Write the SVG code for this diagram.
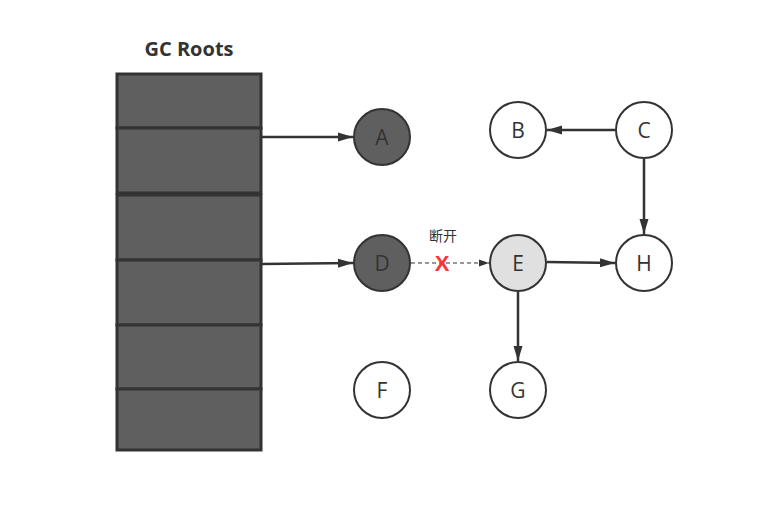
<svg xmlns="http://www.w3.org/2000/svg" width="766" height="522" viewBox="0 0 766 522">
<style>
.cell{fill:#5f5f5f;stroke:#333;stroke-width:3}
.node{stroke:#333;stroke-width:2}
.lbl{font-family:"Open Sans","Noto Sans",sans-serif;font-size:21px;fill:#333;text-anchor:middle;dominant-baseline:central}
.edge{stroke:#333;stroke-width:2.5;fill:none}
.dash{stroke:#333;stroke-width:1.2;fill:none;stroke-dasharray:4 3}
</style>
<defs>
<marker id="arrS" viewBox="0 0 10 10" refX="10" refY="5" markerWidth="10" markerHeight="10" markerUnits="userSpaceOnUse" orient="auto">
<path d="M0,1.5 L10,5 L0,8.5 z" fill="#333"/>
</marker>
<marker id="arrL" viewBox="0 0 10 10" refX="10" refY="5" markerWidth="15" markerHeight="15" markerUnits="userSpaceOnUse" orient="auto">
<path d="M0,2 L10,5 L0,8 z" fill="#333"/>
</marker>
</defs>
<rect width="766" height="522" fill="#fff"/>
<g id="gcroots">
<text x="189" y="56" font-family="'Open Sans','Noto Sans',sans-serif" font-size="20" font-weight="bold" fill="#333" text-anchor="middle">GC Roots</text>
<rect class="cell" x="117" y="74" width="144" height="54"/>
<rect class="cell" x="117" y="128" width="144" height="65"/>
<rect class="cell" x="117" y="195" width="144" height="65"/>
<rect class="cell" x="117" y="260" width="144" height="65"/>
<rect class="cell" x="117" y="325" width="144" height="64"/>
<rect class="cell" x="117" y="389" width="144" height="61"/>
</g>
<g id="connectors">
<line class="edge" x1="261" y1="137" x2="353" y2="137" marker-end="url(#arrL)"/>
<line class="edge" x1="261" y1="264" x2="353" y2="263" marker-end="url(#arrL)"/>
<line class="dash" x1="411" y1="263" x2="489" y2="263" marker-end="url(#arrS)"/>
<line class="edge" x1="547" y1="262" x2="615" y2="263" marker-end="url(#arrL)"/>
<line class="edge" x1="518" y1="292" x2="518" y2="361" marker-end="url(#arrL)"/>
<line class="edge" x1="615" y1="130" x2="547" y2="130" marker-end="url(#arrL)"/>
<line class="edge" x1="644" y1="159" x2="644" y2="234" marker-end="url(#arrL)"/>
<text x="443" y="241" font-family="'Noto Sans CJK SC',sans-serif" font-size="14" fill="#333" text-anchor="middle">断开</text>
<text x="442" y="271" font-family="'Liberation Sans',sans-serif" font-size="22" font-weight="bold" fill="#f33" text-anchor="middle">X</text>
</g>
<g id="A"><circle class="node" cx="382" cy="137" r="28" fill="#5f5f5f"/><text class="lbl" x="382" y="137">A</text></g>
<g id="B"><circle class="node" cx="518" cy="130" r="28" fill="#fff"/><text class="lbl" x="518" y="130">B</text></g>
<g id="C"><circle class="node" cx="644" cy="130" r="28" fill="#fff"/><text class="lbl" x="644" y="130">C</text></g>
<g id="D"><circle class="node" cx="382" cy="263" r="28" fill="#5f5f5f"/><text class="lbl" x="382" y="263">D</text></g>
<g id="E"><circle class="node" cx="518" cy="263" r="28" fill="#e0e0e0"/><text class="lbl" x="518" y="263">E</text></g>
<g id="H"><circle class="node" cx="644" cy="263" r="28" fill="#fff"/><text class="lbl" x="644" y="263">H</text></g>
<g id="F"><circle class="node" cx="382" cy="390" r="28" fill="#fff"/><text class="lbl" x="382" y="390">F</text></g>
<g id="G"><circle class="node" cx="518" cy="390" r="28" fill="#fff"/><text class="lbl" x="518" y="390">G</text></g>
</svg>
